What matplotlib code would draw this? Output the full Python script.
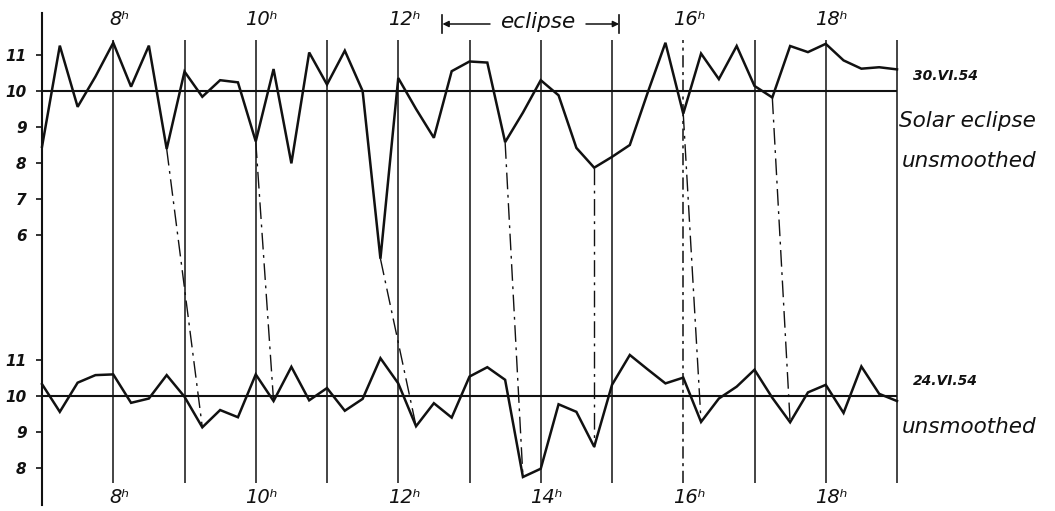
import matplotlib
matplotlib.use("Agg")
import matplotlib.pyplot as plt
import numpy as np

# ---------------- data ----------------
start_hour = 7.0
step_hours = 0.25  # one value every 15 minutes, 7h .. 19h

# 30.VI.54 - solar eclipse day, unsmoothed
eclipse_day = [8.45, 11.26, 9.56, 10.40, 11.34, 10.12, 11.26, 8.39,
               10.54, 9.84, 10.30, 10.24, 8.60, 10.61, 7.99, 11.07,
               10.18, 11.12, 10.00, 5.34, 10.36, 9.50, 8.70, 10.55,
               10.82, 10.79, 8.58, 9.40, 10.30, 9.88, 8.42, 7.87,
               8.17, 8.50, 9.95, 11.34, 9.37, 11.04, 10.33, 11.25,
               10.14, 9.82, 11.25, 11.08, 11.31, 10.85, 10.62, 10.66,
               10.60]

# 24.VI.54 - reference day, unsmoothed
reference_day = [10.33, 9.56, 10.37, 10.58, 10.60, 9.81, 9.93, 10.58,
                 9.98, 9.13, 9.61, 9.41, 10.60, 9.86, 10.81, 9.88,
                 10.22, 9.59, 9.92, 11.05, 10.35, 9.16, 9.80, 9.40,
                 10.54, 10.80, 10.45, 7.75, 7.98, 9.77, 9.56, 8.59,
                 10.31, 11.14, 10.74, 10.35, 10.51, 9.28, 9.93, 10.26,
                 10.73, 9.95, 9.27, 10.10, 10.31, 9.53, 10.82, 10.06,
                 9.86]

hour_lines = list(range(8, 20))
dashed_hours = [16]
top_hour_labels = [8, 10, 12, 16, 18]
bottom_hour_labels = [8, 10, 12, 14, 16, 18]
top_ticks = [6, 7, 8, 9, 10, 11]
bottom_ticks = [8, 9, 10, 11]

# corresponding minima linked by dash-dot lines (time on eclipse day -> time on reference day)
link_top_times = [8.75, 10.00, 11.75, 13.50, 14.75, 16.00, 17.25]
link_bottom_times = [9.25, 10.25, 12.25, 13.75, 14.75, 16.25, 17.50]

eclipse_start, eclipse_end = 12.62, 15.10

# ---------------- layout helpers ----------------
W, H = 1055, 511
X7, PXH = 42.0, 71.25      # pixel of 7h, pixels per hour
Y10, PXU = 91.0, 36.0      # pixel of upper "10", pixels per unit
OFF = (396.0 - 91.0) / PXU  # vertical offset of the lower panel (in units)


def yp(p):
    return 10 + (Y10 - p) / PXU


def xp(p):
    return 7 + (p - X7) / PXH


INK = "#111111"

fig = plt.figure(figsize=(W / 100, H / 100), dpi=100)
ax = fig.add_axes([0, 0, 1, 1])
ax.set_xlim(xp(0), xp(W))
ax.set_ylim(yp(H), yp(0))

for s in ["top", "right", "bottom"]:
    ax.spines[s].set_visible(False)
ax.spines["left"].set_position(("data", 7))
ax.spines["left"].set_bounds(yp(505), yp(13))
ax.spines["left"].set_linewidth(1.5)
ax.spines["left"].set_color(INK)
ax.set_xticks([])

ytick_pos = top_ticks + [t - OFF for t in bottom_ticks]
ytick_lab = [str(t) for t in top_ticks] + [str(t) for t in bottom_ticks]
ax.set_yticks(ytick_pos)
ax.set_yticklabels(ytick_lab)
ax.tick_params(axis="y", direction="out", length=4, width=1.2, pad=7,
               labelsize=11, colors=INK)
for lbl in ax.get_yticklabels():
    lbl.set_fontstyle("italic")
    lbl.set_fontweight("bold")

# reference lines at 10
ax.hlines([10, 10 - OFF], 7, 19, color=INK, lw=1.5)

# hour lines
for h in hour_lines:
    ls = (0, (8, 3, 2, 3)) if h in dashed_hours else "-"
    ax.vlines(h, yp(483), yp(40), color=INK, lw=1.1, linestyles=[ls])

times = start_hour + step_hours * np.arange(len(eclipse_day))
top = np.array(eclipse_day)
bot = np.array(reference_day) - OFF

ax.plot(times, top, color=INK, lw=1.8, solid_joinstyle="miter")
ax.plot(times, bot, color=INK, lw=1.8, solid_joinstyle="miter")

# linking lines between corresponding minima
for tt, tb in zip(link_top_times, link_bottom_times):
    it = int(round((tt - start_hour) / step_hours))
    ib = int(round((tb - start_hour) / step_hours))
    ax.plot([times[it], times[ib]], [top[it], bot[ib]], color=INK, lw=1.0,
            linestyle=(0, (12, 4, 2, 4)))

# eclipse bracket
yb = yp(24)
for xe in (eclipse_start, eclipse_end):
    ax.plot([xe, xe], [yp(15), yp(33)], color=INK, lw=1.2)
ax.annotate("", xy=(eclipse_start, yb), xytext=(xp(490), yb),
            arrowprops=dict(arrowstyle="-|>", lw=1.1, color=INK,
                            mutation_scale=9, shrinkA=0, shrinkB=0))
ax.annotate("", xy=(eclipse_end, yb), xytext=(xp(586), yb),
            arrowprops=dict(arrowstyle="-|>", lw=1.1, color=INK,
                            mutation_scale=9, shrinkA=0, shrinkB=0))
ax.text(xp(538), yp(22), "eclipse", ha="center", va="center",
        fontsize=15.5, style="italic", color=INK)

# hour labels
for h in top_hour_labels:
    ax.text(h + 0.08, yp(19), f"{h}\u02b0", ha="center", va="center",
            fontsize=14, style="italic", color=INK)
for h in bottom_hour_labels:
    ax.text(h + 0.08, yp(497), f"{h}\u02b0", ha="center", va="center",
            fontsize=14, style="italic", color=INK)

# right-hand labels


def ftext(x, y, s, **kw):
    fig.text(x / W, 1 - y / H, s, ha="left", va="center", color=INK, **kw)


ftext(913, 76, "30.VI.54", fontsize=10, style="italic", weight="bold")
ftext(899, 121, "Solar eclipse", fontsize=15.5, style="italic")
ftext(902, 161, "unsmoothed", fontsize=15.5, style="italic")
ftext(913, 381, "24.VI.54", fontsize=10, style="italic", weight="bold")
ftext(902, 427, "unsmoothed", fontsize=15.5, style="italic")

fig.savefig("out.png", dpi=100, facecolor="white")
